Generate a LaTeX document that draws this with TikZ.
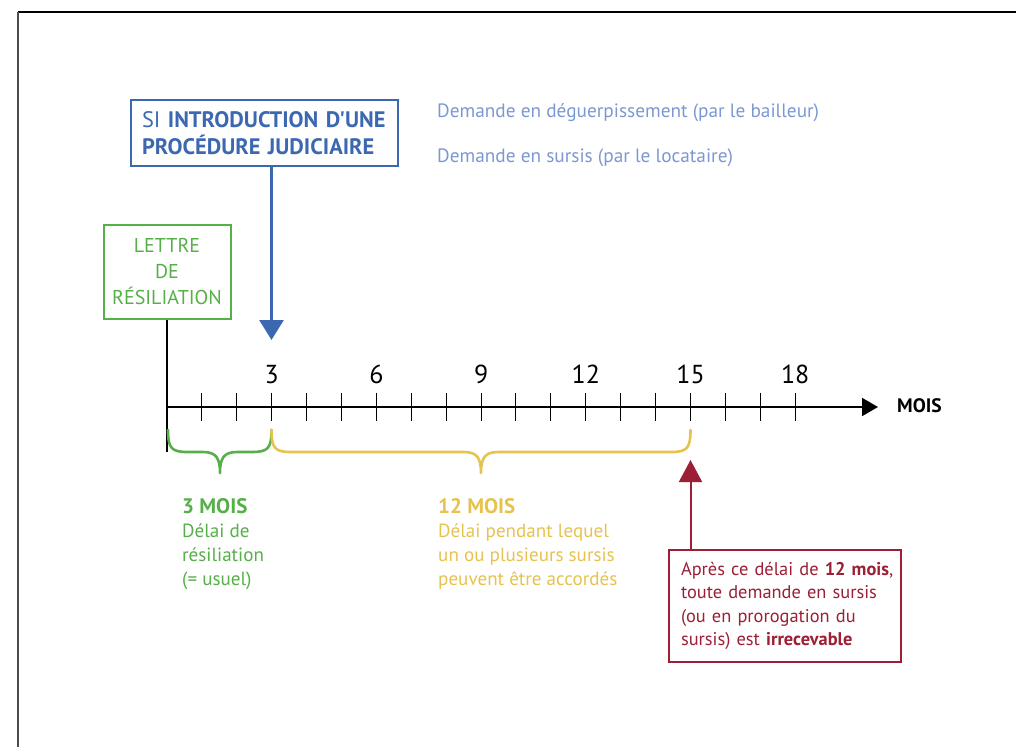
\documentclass[tikz,border=0pt]{standalone}
\usepackage{fontspec}
\setmainfont{PT Sans}[Ligatures=TeXOff]
\usetikzlibrary{arrows.meta}
\definecolor{procblue}{HTML}{3C68B1}
\definecolor{reqblue}{HTML}{7C98D2}
\definecolor{resgreen}{HTML}{56AF48}
\definecolor{delayyellow}{HTML}{E6C24F}
\definecolor{alertred}{HTML}{9C1F35}
% curly brace under the time axis: colour, left end, tip, right end
\newcommand{\timebrace}[4]{%
  \draw[#1, line width=2.6pt, line cap=round, line join=round]
    (#2,430) .. controls (#2,449) and ({#2+4},452) .. ({#2+20},452)
    -- ({#3-17},452) .. controls ({#3-4},452) and (#3,458) .. (#3,473)
    .. controls (#3,458) and ({#3+4},452) .. ({#3+17},452)
    -- ({#4-20},452) .. controls ({#4-4},452) and (#4,449) .. (#4,430);}
\begin{document}
\begin{tikzpicture}[x=1pt,y=-1pt,
  boxtext/.style={inner ysep=0pt},
  plain/.style={anchor=base west, inner sep=0pt}]
\useasboundingbox (0,0) rectangle (1016,747);
% page frame
\draw[line width=1.5pt] (18,12) -- (1016,12);
\draw[line width=1.2pt, black!70] (18,12) -- (18,747);

% months along the axis (snapped to pixel centres)
\foreach \k in {0,...,18} \coordinate (m\k) at ({int(167+34.9*\k)+0.5},407);
\coordinate (axisend) at (878,407);
\coordinate (proctip) at ({int(167+34.9*3)+0.5},340);
\coordinate (latetip) at ({int(167+34.9*15)+0.5},460);
\coordinate (rootend) at (167,452);

% boxes
\node[boxtext, draw=procblue, line width=1.8pt, text=procblue, text width=245pt,
      inner xsep=11pt, minimum height=66pt, align=left,
      font=\fontsize{22.4}{26.5}\selectfont] (proc) at (264.5,133)
  {\mbox{SI \textbf{INTRODUCTION D'UNE}}\\\mbox{\textbf{PROCÉDURE JUDICIAIRE}}};
\node[boxtext, draw=resgreen, line width=2pt, text=resgreen, minimum width=127pt,
      minimum height=94pt, inner xsep=0pt, align=center,
      font=\fontsize{20}{26}\selectfont] (letter) at (167,272)
  {LETTRE\\DE\\RÉSILIATION};
\node[boxtext, draw=alertred, line width=1.5pt, text=alertred, text width=208pt,
      inner xsep=12pt, minimum height=112pt, align=left,
      font=\fontsize{18.4}{23.3}\selectfont] (late) at (785,606)
  {\mbox{Après ce délai de \textbf{12 mois},}\\\mbox{toute demande en sursis}\\\mbox{(ou en prorogation du}\\\mbox{sursis) est \textbf{irrecevable}}};

% requests
\node[plain, text=reqblue, font=\fontsize{19.3}{19.3}\selectfont] (evict) at (437,117)
  {Demande en déguerpissement (par le bailleur)};
\node[plain, text=reqblue, font=\fontsize{19.3}{19.3}\selectfont] (stay) at (437,162)
  {Demande en sursis (par le locataire)};

% time axis
\draw[line width=2pt] (letter.south) -- (rootend);
\draw[line width=1.8pt, -{Triangle[length=16pt,width=18pt]}] (m0) -- (axisend);
\foreach \k in {1,...,18} \draw[line width=1.2pt] (m\k) ++(0,-14) -- ++(0,28);
\foreach \k in {3,6,...,18}
  \node[anchor=base, inner sep=0pt, font=\fontsize{26}{26}\selectfont] (n\k)
    at ({167+34.9*\k},383) {\k};
\node[plain, font=\bfseries\fontsize{19.5}{19.5}\selectfont] (unit) at (897,412) {MOIS};

% arrows
\draw[procblue, line width=2.6pt, -{Triangle[length=20pt,width=24pt]}] (proc.south -| proctip) -- (proctip);
\draw[alertred, line width=2pt, -{Triangle[length=22pt,width=23pt]}] (late.north -| latetip) -- (latetip);

% braces
\timebrace{resgreen}{168}{220}{271.5}
\timebrace{delayyellow}{271.5}{481}{690.5}

% durations
\node[plain, text=resgreen, font=\fontsize{19.1}{24.3}\selectfont] (short) at (182,513)
  {\parbox[t]{150pt}{\raggedright{\bfseries\fontsize{21}{24.3}\selectfont 3 MOIS}\\Délai de\\résiliation\\(= usuel)}};
\node[plain, text=delayyellow, font=\fontsize{19.1}{24.3}\selectfont] (long) at (438,513)
  {\parbox[t]{230pt}{\raggedright{\bfseries\fontsize{21}{24.3}\selectfont 12 MOIS}\\Délai pendant lequel\\un ou plusieurs sursis\\peuvent être accordés}};
\end{tikzpicture}
\end{document}
